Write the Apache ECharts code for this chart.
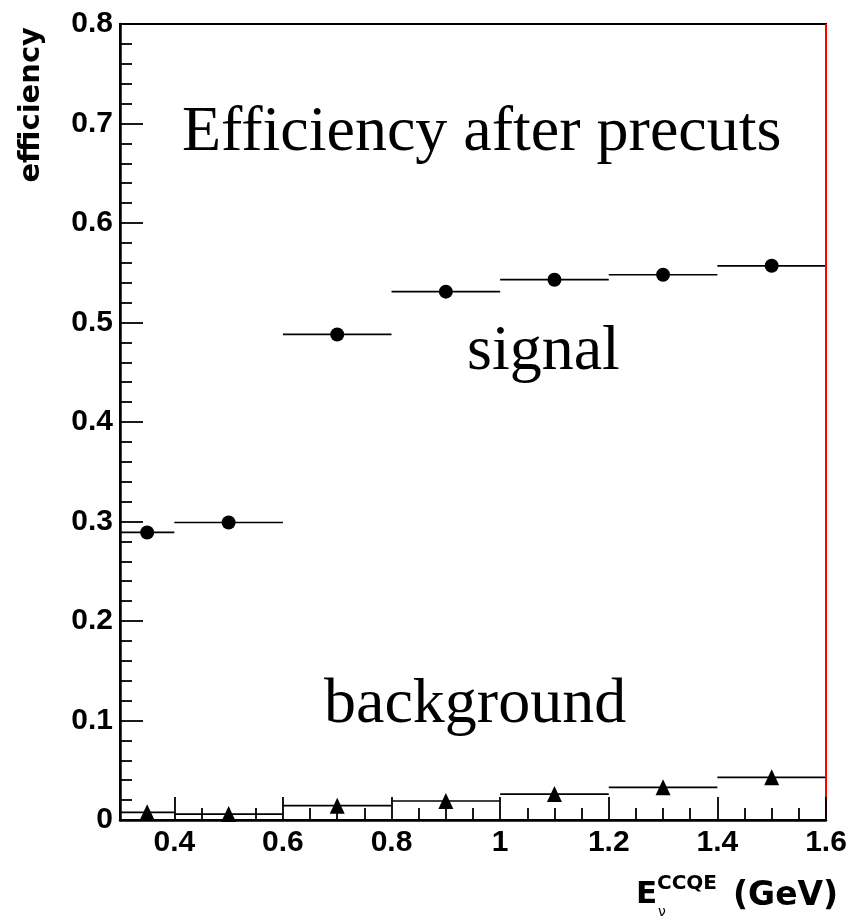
<!DOCTYPE html>
<html>
<head>
<meta charset="utf-8">
<script src="https://cdn.jsdelivr.net/npm/echarts@6/dist/echarts.min.js"></script>
<style>html,body{margin:0;padding:0;background:#fff}#c{width:853px;height:920px}</style>
</head>
<body>
<div id="c"></div>
<script>
// ---- data ----
var binLow  = [0.3, 0.4, 0.6, 0.8, 1.0, 1.2, 1.4];
var binHigh = [0.4, 0.6, 0.8, 1.0, 1.2, 1.4, 1.6];
var binCenter = [0.35, 0.5, 0.7, 0.9, 1.1, 1.3, 1.5];
var signalEff = [0.289, 0.299, 0.488, 0.531, 0.543, 0.548, 0.557];
var backgroundEff = [0.0077, 0.006, 0.0144, 0.0191, 0.0261, 0.0328, 0.0429];
var xMajorTicks = [0.4, 0.6, 0.8, 1.0, 1.2, 1.4, 1.6];
var xMinorTicks = [0.35, 0.45, 0.5, 0.55, 0.65, 0.7, 0.75, 0.85, 0.9, 0.95, 1.05, 1.1, 1.15, 1.25, 1.3, 1.35, 1.45, 1.5, 1.55];
var redLineX = 1.6;

var sigBars = binLow.map(function(l, i){ return [l, binHigh[i], signalEff[i]]; });
var bkgBars = binLow.map(function(l, i){ return [l, binHigh[i], backgroundEff[i]]; });
var sigPts = binCenter.map(function(c, i){ return [c, signalEff[i]]; });
var bkgPts = binCenter.map(function(c, i){ return [c, backgroundEff[i]]; });

function barRender(params, api){
  var a = api.coord([api.value(0), api.value(2)]);
  var b = api.coord([api.value(1), api.value(2)]);
  return {type:'line', shape:{x1:a[0], y1:a[1], x2:b[0], y2:b[1]},
          style:{stroke:'#000', lineWidth:1.7}};
}

var chart = echarts.init(document.getElementById('c'), null, {renderer:'canvas'});
var tickFont = {color:'#000', fontFamily:'Liberation Sans', fontWeight:'bold', fontSize:30};
var serif = 'Liberation Serif';

chart.setOption({
  animation:false,
  backgroundColor:'#fff',
  grid:{left:120, right:27, top:24, bottom:100, show:true, borderColor:'#000', borderWidth:2, backgroundColor:'transparent'},
  xAxis:[{
    type:'value', min:0.3, max:1.6, position:'bottom', z:10,
    axisLine:{show:true, onZero:false, lineStyle:{color:'#000', width:2.5}},
    axisTick:{show:true, inside:true, length:23, customValues:xMajorTicks, lineStyle:{color:'#000', width:1.8}},
    axisLabel:Object.assign({show:true, margin:8, customValues:xMajorTicks}, tickFont),
    splitLine:{show:false}
  },{
    type:'value', min:0.3, max:1.6, position:'bottom', z:10,
    axisLine:{show:false},
    axisTick:{show:true, inside:true, length:12, customValues:xMinorTicks, lineStyle:{color:'#000', width:1.8}},
    axisLabel:{show:false},
    splitLine:{show:false}
  }],
  yAxis:{
    type:'value', min:0, max:0.8, interval:0.1, z:10,
    axisLine:{show:true, onZero:false, lineStyle:{color:'#000', width:2.5}},
    axisTick:{show:true, inside:true, length:23, lineStyle:{color:'#000', width:1.8}},
    minorTick:{show:true, splitNumber:5, length:12, lineStyle:{color:'#000', width:1.8}},
    axisLabel:Object.assign({margin:7}, tickFont),
    splitLine:{show:false}, minorSplitLine:{show:false}
  },
  series:[
    {type:'custom', renderItem:barRender, data:sigBars, encode:{x:[0,1], y:2}, z:3, silent:true, clip:false},
    {type:'custom', renderItem:barRender, data:bkgBars, encode:{x:[0,1], y:2}, z:3, silent:true, clip:false},
    {type:'scatter', data:sigPts, symbol:'circle', symbolSize:14, itemStyle:{color:'#000', opacity:1}, z:4, silent:true, clip:false,
     markLine:{silent:true, symbol:'none', label:{show:false}, lineStyle:{color:'#ff0000', width:2, type:'solid', opacity:1},
               data:[{xAxis:redLineX}]}},
    {type:'scatter', data:bkgPts, symbol:'triangle', symbolSize:[15,16], itemStyle:{color:'#000', opacity:1}, z:4, silent:true, clip:false}
  ],
  graphic:[
    {type:'text', x:31, y:27, rotation:Math.PI/2, style:{text:'efficiency', fill:'#000', font:'bold 29px "DejaVu Sans"', align:'right', verticalAlign:'middle'}},
    {type:'text', x:182, y:133, style:{text:'Efficiency after precuts', fill:'#000', font:'64px "'+serif+'"', align:'left', verticalAlign:'middle'}},
    {type:'text', x:467, y:352, style:{text:'signal', fill:'#000', font:'64px "'+serif+'"', align:'left', verticalAlign:'middle'}},
    {type:'text', x:324, y:705, style:{text:'background', fill:'#000', font:'64px "'+serif+'"', align:'left', verticalAlign:'middle'}},
    {type:'text', x:636, y:895, style:{text:'E', fill:'#000', font:'bold 31px "DejaVu Sans"', align:'left', verticalAlign:'middle'}},
    {type:'text', x:657, y:884, style:{text:'CCQE', fill:'#000', font:'bold 20px "DejaVu Sans"', align:'left', verticalAlign:'middle'}},
    {type:'text', x:658, y:912, style:{text:'ν', fill:'#000', font:'14px "DejaVu Sans"', align:'left', verticalAlign:'middle'}},
    {type:'text', x:733, y:896, style:{text:'(GeV)', fill:'#000', font:'bold 33px "DejaVu Sans"', align:'left', verticalAlign:'middle'}}
  ]
});
</script>
</body>
</html>
